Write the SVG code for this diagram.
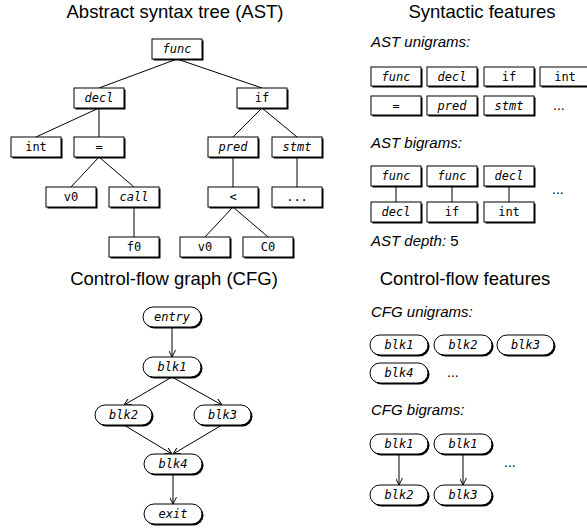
<svg xmlns="http://www.w3.org/2000/svg" width="587" height="529" viewBox="0 0 587 529">
<defs>
<style>
.title{font-family:"Liberation Sans",Arial,sans-serif;font-size:18.5px;fill:#000;text-anchor:middle}
.lbl{font-family:"Liberation Sans",Arial,sans-serif;font-size:15px;font-style:italic;fill:#000}
.up{font-style:normal}
.t{font-family:"DejaVu Sans Mono",monospace;font-size:12px;fill:#000;text-anchor:middle}
.i{font-style:italic}
.sh{fill:#000}
.bx{fill:#fff;stroke:#000;stroke-width:1}
.e{stroke:#000;stroke-width:1;fill:none}
.a{stroke:#000;stroke-width:1;fill:none;marker-end:url(#arr)}
.dots{font-family:"Liberation Sans",Arial,sans-serif;font-size:14px;fill:#000}
</style>
<marker id="arr" viewBox="0 0 10 10" refX="10" refY="5" markerWidth="7" markerHeight="7" markerUnits="userSpaceOnUse" orient="auto">
<path d="M0,0 L10,5 L0,10" fill="none" stroke="#000" stroke-width="1.4"/>
</marker>
</defs>
<rect width="587" height="529" fill="#fff"/>

<text class="title" x="175" y="18">Abstract syntax tree (AST)</text>
<text class="title" x="482" y="18">Syntactic features</text>
<text class="title" x="174" y="285">Control-flow graph (CFG)</text>
<text class="title" x="465" y="285">Control-flow features</text>

<g id="connectors">
<line class="e" x1="177" y1="59" x2="99" y2="88"/>
<line class="e" x1="177" y1="59" x2="262" y2="88"/>
<line class="e" x1="99" y1="108" x2="36" y2="137"/>
<line class="e" x1="99" y1="108" x2="99" y2="137"/>
<line class="e" x1="99" y1="157" x2="71" y2="187"/>
<line class="e" x1="99" y1="157" x2="134" y2="187"/>
<line class="e" x1="134" y1="207" x2="134" y2="237"/>
<line class="e" x1="262" y1="108" x2="233" y2="137"/>
<line class="e" x1="262" y1="108" x2="297" y2="137"/>
<line class="e" x1="233" y1="157" x2="233" y2="187"/>
<line class="e" x1="297" y1="157" x2="297" y2="187"/>
<line class="e" x1="233" y1="207" x2="205" y2="237"/>
<line class="e" x1="233" y1="207" x2="268" y2="237"/>
<line class="e" x1="396" y1="186" x2="396" y2="202"/>
<line class="e" x1="452" y1="186" x2="452" y2="202"/>
<line class="e" x1="509" y1="186" x2="509" y2="202"/>
<line class="a" x1="172" y1="327" x2="172" y2="357"/>
<line class="a" x1="172" y1="377" x2="124" y2="405"/>
<line class="a" x1="172" y1="377" x2="222" y2="405"/>
<line class="a" x1="124" y1="425" x2="172" y2="454"/>
<line class="a" x1="222" y1="425" x2="173" y2="454"/>
<line class="a" x1="173" y1="474" x2="173" y2="504"/>
<line class="a" x1="399" y1="454" x2="399" y2="485"/>
<line class="a" x1="463" y1="454" x2="463" y2="485"/>
</g>

<g id="ast-func"><rect class="sh" x="153.5" y="40.5" width="50" height="20"/><rect class="bx" x="152" y="39" width="50" height="20"/><text class="t i" x="177" y="53.3">func</text></g>
<g id="ast-decl"><rect class="sh" x="75.5" y="89.5" width="50" height="20"/><rect class="bx" x="74" y="88" width="50" height="20"/><text class="t i" x="99" y="102.3">decl</text></g>
<g id="ast-if"><rect class="sh" x="238.5" y="89.5" width="50" height="20"/><rect class="bx" x="237" y="88" width="50" height="20"/><text class="t" x="262" y="102.3">if</text></g>
<g id="ast-int"><rect class="sh" x="12.5" y="138.5" width="50" height="20"/><rect class="bx" x="11" y="137" width="50" height="20"/><text class="t" x="36" y="151.3">int</text></g>
<g id="ast-eq"><rect class="sh" x="75.5" y="138.5" width="50" height="20"/><rect class="bx" x="74" y="137" width="50" height="20"/><text class="t" x="99" y="151.3">=</text></g>
<g id="ast-pred"><rect class="sh" x="209.5" y="138.5" width="50" height="20"/><rect class="bx" x="208" y="137" width="50" height="20"/><text class="t i" x="233" y="151.3">pred</text></g>
<g id="ast-stmt"><rect class="sh" x="273.5" y="138.5" width="50" height="20"/><rect class="bx" x="272" y="137" width="50" height="20"/><text class="t i" x="297" y="151.3">stmt</text></g>
<g id="ast-v0a"><rect class="sh" x="47.5" y="188.5" width="50" height="20"/><rect class="bx" x="46" y="187" width="50" height="20"/><text class="t" x="71" y="201.3">v0</text></g>
<g id="ast-call"><rect class="sh" x="110.5" y="188.5" width="50" height="20"/><rect class="bx" x="109" y="187" width="50" height="20"/><text class="t i" x="134" y="201.3">call</text></g>
<g id="ast-lt"><rect class="sh" x="209.5" y="188.5" width="50" height="20"/><rect class="bx" x="208" y="187" width="50" height="20"/><text class="t" x="233" y="201.3">&lt;</text></g>
<g id="ast-more"><rect class="sh" x="273.5" y="188.5" width="50" height="20"/><rect class="bx" x="272" y="187" width="50" height="20"/><text class="t" x="297" y="201.3">...</text></g>
<g id="ast-f0"><rect class="sh" x="110.5" y="238.5" width="50" height="20"/><rect class="bx" x="109" y="237" width="50" height="20"/><text class="t" x="134" y="251.3">f0</text></g>
<g id="ast-v0b"><rect class="sh" x="181.5" y="238.5" width="50" height="20"/><rect class="bx" x="180" y="237" width="50" height="20"/><text class="t" x="205" y="251.3">v0</text></g>
<g id="ast-c0"><rect class="sh" x="244.5" y="238.5" width="50" height="20"/><rect class="bx" x="243" y="237" width="50" height="20"/><text class="t" x="268" y="251.3">C0</text></g>

<text class="lbl" x="371" y="47">AST unigrams:</text>
<g id="uni-func"><rect class="sh" x="372.5" y="68.5" width="50" height="19"/><rect class="bx" x="371" y="67" width="50" height="19"/><text class="t i" x="396" y="81">func</text></g>
<g id="uni-decl"><rect class="sh" x="428.5" y="68.5" width="50" height="19"/><rect class="bx" x="427" y="67" width="50" height="19"/><text class="t i" x="452" y="81">decl</text></g>
<g id="uni-if"><rect class="sh" x="485.5" y="68.5" width="50" height="19"/><rect class="bx" x="484" y="67" width="50" height="19"/><text class="t" x="509" y="81">if</text></g>
<g id="uni-int"><rect class="sh" x="541.5" y="68.5" width="50" height="19"/><rect class="bx" x="540" y="67" width="50" height="19"/><text class="t" x="565" y="81">int</text></g>
<g id="uni-eq"><rect class="sh" x="372.5" y="97.5" width="50" height="19"/><rect class="bx" x="371" y="96" width="50" height="19"/><text class="t" x="396" y="110">=</text></g>
<g id="uni-pred"><rect class="sh" x="428.5" y="97.5" width="50" height="19"/><rect class="bx" x="427" y="96" width="50" height="19"/><text class="t i" x="452" y="110">pred</text></g>
<g id="uni-stmt"><rect class="sh" x="485.5" y="97.5" width="50" height="19"/><rect class="bx" x="484" y="96" width="50" height="19"/><text class="t i" x="509" y="110">stmt</text></g>
<text class="dots" x="553" y="110">...</text>

<text class="lbl" x="371" y="148">AST bigrams:</text>
<g id="bi1-top"><rect class="sh" x="372.5" y="167.5" width="50" height="20"/><rect class="bx" x="371" y="166" width="50" height="20"/><text class="t i" x="396" y="180.3">func</text></g>
<g id="bi2-top"><rect class="sh" x="428.5" y="167.5" width="50" height="20"/><rect class="bx" x="427" y="166" width="50" height="20"/><text class="t i" x="452" y="180.3">func</text></g>
<g id="bi3-top"><rect class="sh" x="485.5" y="167.5" width="50" height="20"/><rect class="bx" x="484" y="166" width="50" height="20"/><text class="t i" x="509" y="180.3">decl</text></g>
<g id="bi1-bot"><rect class="sh" x="372.5" y="203.5" width="50" height="20"/><rect class="bx" x="371" y="202" width="50" height="20"/><text class="t i" x="396" y="216.3">decl</text></g>
<g id="bi2-bot"><rect class="sh" x="428.5" y="203.5" width="50" height="20"/><rect class="bx" x="427" y="202" width="50" height="20"/><text class="t" x="452" y="216.3">if</text></g>
<g id="bi3-bot"><rect class="sh" x="485.5" y="203.5" width="50" height="20"/><rect class="bx" x="484" y="202" width="50" height="20"/><text class="t" x="509" y="216.3">int</text></g>
<text class="dots" x="552" y="194">...</text>

<text class="lbl" x="371" y="246">AST depth: <tspan class="up">5</tspan></text>

<g id="cfg-entry"><rect class="sh" x="144.5" y="308.5" width="58" height="20" rx="10"/><rect class="bx" x="143" y="307" width="58" height="20" rx="10"/><text class="t i" x="172" y="321.3">entry</text></g>
<g id="cfg-blk1"><rect class="sh" x="144.5" y="358.5" width="58" height="20" rx="10"/><rect class="bx" x="143" y="357" width="58" height="20" rx="10"/><text class="t i" x="172" y="371.3">blk1</text></g>
<g id="cfg-blk2"><rect class="sh" x="96.5" y="406.5" width="57" height="20" rx="10"/><rect class="bx" x="95" y="405" width="57" height="20" rx="10"/><text class="t i" x="123.5" y="419.3">blk2</text></g>
<g id="cfg-blk3"><rect class="sh" x="195.5" y="406.5" width="57" height="20" rx="10"/><rect class="bx" x="194" y="405" width="57" height="20" rx="10"/><text class="t i" x="222.5" y="419.3">blk3</text></g>
<g id="cfg-blk4"><rect class="sh" x="145.5" y="455.5" width="58" height="20" rx="10"/><rect class="bx" x="144" y="454" width="58" height="20" rx="10"/><text class="t i" x="173" y="468.3">blk4</text></g>
<g id="cfg-exit"><rect class="sh" x="145.5" y="505.5" width="58" height="20" rx="10"/><rect class="bx" x="144" y="504" width="58" height="20" rx="10"/><text class="t i" x="173" y="518.3">exit</text></g>

<text class="lbl" x="371" y="317">CFG unigrams:</text>
<g id="cu-blk1"><rect class="sh" x="371.5" y="336.5" width="58" height="20" rx="10"/><rect class="bx" x="370" y="335" width="58" height="20" rx="10"/><text class="t i" x="399" y="349.3">blk1</text></g>
<g id="cu-blk2"><rect class="sh" x="435.5" y="336.5" width="58" height="20" rx="10"/><rect class="bx" x="434" y="335" width="58" height="20" rx="10"/><text class="t i" x="463" y="349.3">blk2</text></g>
<g id="cu-blk3"><rect class="sh" x="498.5" y="336.5" width="57" height="20" rx="10"/><rect class="bx" x="497" y="335" width="57" height="20" rx="10"/><text class="t i" x="525.5" y="349.3">blk3</text></g>
<g id="cu-blk4"><rect class="sh" x="371.5" y="364.5" width="58" height="20" rx="10"/><rect class="bx" x="370" y="363" width="58" height="20" rx="10"/><text class="t i" x="399" y="377.3">blk4</text></g>
<text class="dots" x="447" y="377">...</text>

<text class="lbl" x="371" y="415">CFG bigrams:</text>
<g id="cb1-top"><rect class="sh" x="371.5" y="435.5" width="58" height="20" rx="10"/><rect class="bx" x="370" y="434" width="58" height="20" rx="10"/><text class="t i" x="399" y="448.3">blk1</text></g>
<g id="cb2-top"><rect class="sh" x="435.5" y="435.5" width="58" height="20" rx="10"/><rect class="bx" x="434" y="434" width="58" height="20" rx="10"/><text class="t i" x="463" y="448.3">blk1</text></g>
<g id="cb1-bot"><rect class="sh" x="371.5" y="486.5" width="58" height="20" rx="10"/><rect class="bx" x="370" y="485" width="58" height="20" rx="10"/><text class="t i" x="399" y="499.3">blk2</text></g>
<g id="cb2-bot"><rect class="sh" x="435.5" y="486.5" width="58" height="20" rx="10"/><rect class="bx" x="434" y="485" width="58" height="20" rx="10"/><text class="t i" x="463" y="499.3">blk3</text></g>
<text class="dots" x="504" y="467">...</text>
</svg>
